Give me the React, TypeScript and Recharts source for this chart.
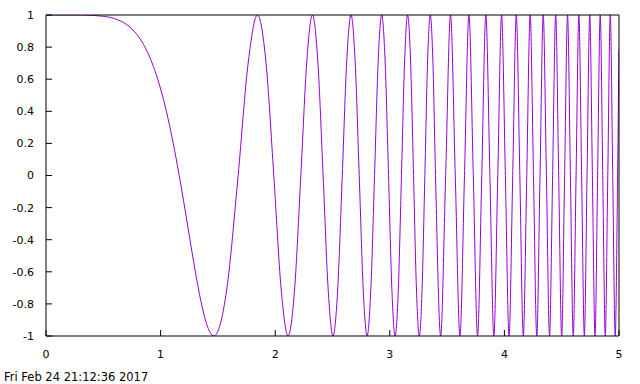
import React from "react";
import { LineChart, Line, XAxis, YAxis } from "recharts";

const xValues: number[] = [
  0, 0.3, 0.5, 0.6, 0.7, 0.8, 0.9, 1.0, 1.05, 1.1, 1.1624, 1.2, 1.25, 1.3, 1.35, 1.4, 1.4646,
  1.5777, 1.6765, 1.765, 1.8453, 1.9192, 1.9878, 2.0519, 2.1124, 2.1694, 2.2237, 2.2754, 2.3249,
  2.3724, 2.4181, 2.462, 2.5044, 2.5455, 2.5853, 2.6238, 2.6614, 2.6978, 2.7333, 2.7679, 2.8017,
  2.8346, 2.8668, 2.8983, 2.9292, 2.9594, 2.989, 3.018, 3.0465, 3.0744, 3.1019, 3.1289, 3.1554,
  3.1815, 3.2071, 3.2324, 3.2573, 3.2817, 3.3059, 3.3296, 3.3531, 3.3762, 3.399,
  3.4437, 3.4874, 3.5299, 3.5714, 3.612, 3.6517, 3.6906, 3.7286, 3.7659, 3.8024, 3.8383, 3.8735,
  3.9081, 3.9421, 3.9755, 4.0084, 4.0407, 4.0725, 4.1038, 4.1347, 4.1651, 4.1951, 4.2246, 4.2538,
  4.2825, 4.3109, 4.3388, 4.3665, 4.3938, 4.4207, 4.4474, 4.4737, 4.4997, 4.5254, 4.5509, 4.576,
  4.6008, 4.6255, 4.6498, 4.6739, 4.6977, 4.7213, 4.7447, 4.7679, 4.7908, 4.8135, 4.836, 4.8583,
  4.8803, 4.9022, 4.924, 4.9454, 4.9668, 4.9879, 5.0,
];

const yValues: number[] = [
  1, 1, 0.992, 0.977, 0.942, 0.872, 0.746, 0.54, 0.401, 0.237, 0, -0.156, -0.373, -0.587, -0.777, -0.922, -1,
  -0.707, 0, 0.707, 1, 0.707, 0, -0.707, -1, -0.707, 0, 0.707, 1,
  0.707, 0, -0.707, -1, -0.707, 0, 0.707, 1, 0.707, 0, -0.707, -1,
  -0.707, 0, 0.707, 1, 0.707, 0, -0.707, -1, -0.707, 0, 0.707, 1,
  0.707, 0, -0.707, -1, -0.707, 0, 0.707, 1, 0.707, 0,
  -1, 0, 1, 0, -1, 0, 1, 0, -1, 0, 1, 0,
  -1, 0, 1, 0, -1, 0, 1, 0, -1, 0, 1, 0,
  -1, 0, 1, 0, -1, 0, 1, 0, -1, 0, 1, 0,
  -1, 0, 1, 0, -1, 0, 1, 0, -1, 0, 1, 0,
  -1, 0, 1, 0, -1, 0, 0.787,
];

const xTicks: number[] = [0, 1, 2, 3, 4, 5];
const yTicks: number[] = [-1, -0.8, -0.6, -0.4, -0.2, 0, 0.2, 0.4, 0.6, 0.8, 1];
const timestamp = "Fri Feb 24 21:12:36 2017";

const data = xValues.map((x, i) => ({ x, y: yValues[i] }));

const FONT = "'DejaVu Sans', Verdana, sans-serif";
const tickStyle = { fontSize: 11, fill: "#000", fontFamily: FONT };

export default function App() {
  return (
    <div style={{ position: "relative", width: 640, height: 384, background: "#fff" }}>
      <style>{"body{margin:0;background:#fff;}"}</style>
      <LineChart
        width={640}
        height={384}
        data={data}
        margin={{ top: 10, right: 16, bottom: 18, left: 0 }}
      >
        <XAxis
          xAxisId="bottom"
          dataKey="x"
          type="number"
          domain={[0, 5]}
          ticks={xTicks}
          orientation="bottom"
          height={30}
          tickSize={-6}
          tickMargin={20}
          axisLine={{ stroke: "#000" }}
          tickLine={{ stroke: "#000" }}
          tick={tickStyle}
          allowDataOverflow
        />
        <XAxis
          xAxisId="top"
          dataKey="x"
          type="number"
          domain={[0, 5]}
          ticks={xTicks}
          orientation="top"
          height={5}
          tickSize={-6}
          axisLine={{ stroke: "#000" }}
          tickLine={{ stroke: "#000" }}
          tick={false}
          allowDataOverflow
        />
        <YAxis
          yAxisId="left"
          type="number"
          domain={[-1, 1]}
          ticks={yTicks}
          orientation="left"
          width={46}
          tickSize={-6}
          tickMargin={18}
          axisLine={{ stroke: "#000" }}
          tickLine={{ stroke: "#000" }}
          tick={tickStyle}
          allowDataOverflow
        />
        <YAxis
          yAxisId="right"
          type="number"
          domain={[-1, 1]}
          ticks={yTicks}
          orientation="right"
          width={5}
          tickSize={-6}
          axisLine={{ stroke: "#000" }}
          tickLine={{ stroke: "#000" }}
          tick={false}
          allowDataOverflow
        />
        <Line
          xAxisId="bottom"
          yAxisId="left"
          dataKey="y"
          type="monotoneX"
          stroke="#9400D3"
          strokeWidth={1}
          dot={false}
          activeDot={false}
          isAnimationActive={false}
        />
      </LineChart>
      <div
        style={{
          position: "absolute",
          left: 4,
          top: 372,
          fontFamily: FONT,
          fontSize: 11.5,
          lineHeight: "11px",
          color: "#000",
          whiteSpace: "nowrap",
        }}
      >
        {timestamp}
      </div>
    </div>
  );
}
